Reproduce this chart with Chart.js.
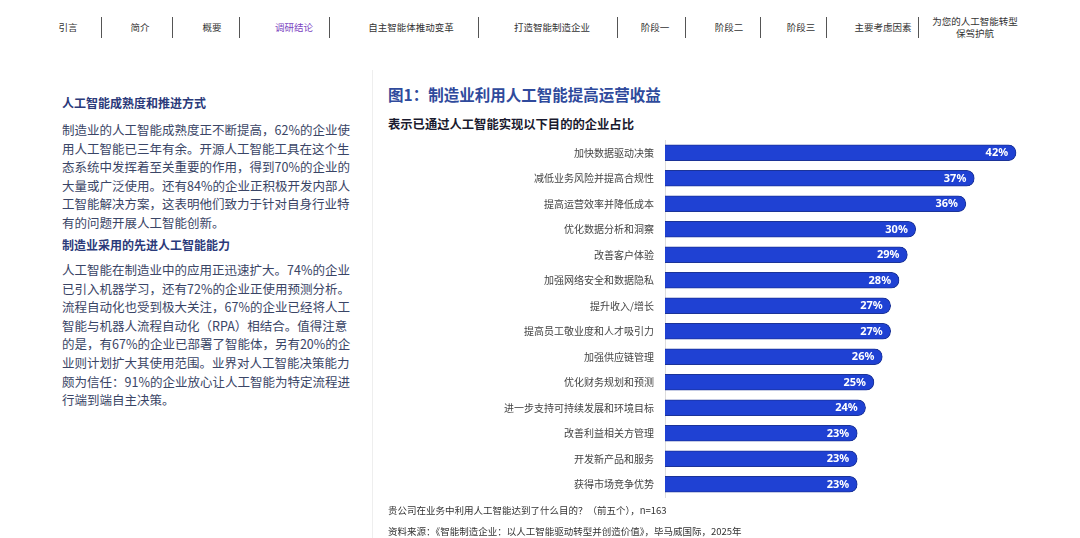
<!DOCTYPE html>
<html>
<head>
<meta charset="utf-8">
<script src="https://cdn.jsdelivr.net/npm/chart.js@4"></script>
<style>
  body { margin: 0; width: 1080px; height: 538px; background: #fff; position: relative; overflow: hidden;
         font-family: "Noto Sans CJK SC", "Noto Sans", sans-serif; }
  .nav { position: absolute; top: 27px; font-size: 9.5px; color: #333; transform: translate(-50%, -50%); white-space: nowrap; text-align: center; line-height: 12px; }
  .sep { position: absolute; top: 17px; width: 1px; height: 21px; background: #555; }
  .left { position: absolute; left: 62px; white-space: nowrap; }
  .h { font-size: 12px; font-weight: bold; color: #2b3a7a; }
  .p { font-size: 12.5px; color: #3a4566; line-height: 18.6px; }
  #divider { position: absolute; left: 372px; top: 70px; width: 1px; height: 468px; background: #eeeeee; }
  #title { position: absolute; left: 388px; top: 83px; font-size: 15.5px; font-weight: bold; color: #2f4a9c; white-space: nowrap; }
  #subtitle { position: absolute; left: 388px; top: 115px; font-size: 12.3px; font-weight: bold; color: #1a1a2e; white-space: nowrap; }
  .foot { position: absolute; left: 388px; font-size: 9.5px; color: #333; white-space: nowrap; }
  #wrap { position: absolute; left: 380px; top: 131px; width: 703px; height: 375px; }
</style>
</head>
<body>
<div id="navbar"></div>

<div id="divider"></div>

<div class="left h" style="top:94px">人工智能成熟度和推进方式</div>
<div class="left p" style="top:121px">制造业的人工智能成熟度正不断提高，62%的企业使<br>用人工智能已三年有余。开源人工智能工具在这个生<br>态系统中发挥着至关重要的作用，得到70%的企业的<br>大量或广泛使用。还有84%的企业正积极开发内部人<br>工智能解决方案，这表明他们致力于针对自身行业特<br>有的问题开展人工智能创新。</div>
<div class="left h" style="top:236px">制造业采用的先进人工智能能力</div>
<div class="left p" style="top:261px">人工智能在制造业中的应用正迅速扩大。74%的企业<br>已引入机器学习，还有72%的企业正使用预测分析。<br>流程自动化也受到极大关注，67%的企业已经将人工<br>智能与机器人流程自动化（RPA）相结合。值得注意<br>的是，有67%的企业已部署了智能体，另有20%的企<br>业则计划扩大其使用范围。业界对人工智能决策能力<br>颇为信任：91%的企业放心让人工智能为特定流程进<br>行端到端自主决策。</div>

<div id="title">图1：制造业利用人工智能提高运营收益</div>
<div id="subtitle">表示已通过人工智能实现以下目的的企业占比</div>

<div id="wrap"><canvas id="chart"></canvas></div>

<div class="foot" style="top:503px">贵公司在业务中利用人工智能达到了什么目的？（前五个），n=163</div>
<div class="foot" style="top:524px">资料来源：《智能制造企业：以人工智能驱动转型并创造价值》，毕马威国际，2025年</div>

<script>
// 顶部导航
const navItems = ['引言', '简介', '概要', '调研结论', '自主智能体推动变革', '打造智能制造企业', '阶段一', '阶段二', '阶段三', '主要考虑因素', '为您的人工智能转型<br>保驾护航'];
const navX = [68, 140, 212, 294, 411, 552, 655, 729, 801, 883, 975];
const sepX = [101, 172, 239, 329, 478, 617, 685, 760, 826, 918];

// 图表数据
const categories = ['加快数据驱动决策', '减低业务风险并提高合规性', '提高运营效率并降低成本', '优化数据分析和洞察', '改善客户体验',
  '加强网络安全和数据隐私', '提升收入/增长', '提高员工敬业度和人才吸引力', '加强供应链管理', '优化财务规划和预测',
  '进一步支持可持续发展和环境目标', '改善利益相关方管理', '开发新产品和服务', '获得市场竞争优势'];
const values = [42, 37, 36, 30, 29, 28, 27, 27, 26, 25, 24, 23, 23, 23];

const nav = document.getElementById('navbar');
navItems.forEach((t, i) => {
    const d = document.createElement('div');
    d.className = 'nav';
    d.style.left = navX[i] + 'px';
    d.innerHTML = t;
    if (i === 3) d.style.color = '#7b3fbf';
    nav.appendChild(d);
});
sepX.forEach(x => {
    const s = document.createElement('div');
    s.className = 'sep';
    s.style.left = x + 'px';
    nav.appendChild(s);
});

// 条形末端的百分比标签
const valueLabels = {
    id: 'valueLabels',
    afterDatasetsDraw(chart) {
        const ctx = chart.ctx;
        const meta = chart.getDatasetMeta(0);
        ctx.save();
        ctx.font = 'bold 11px "Noto Sans", "Noto Sans CJK SC", sans-serif';
        ctx.fillStyle = '#ffffff';
        ctx.textAlign = 'right';
        ctx.textBaseline = 'middle';
        meta.data.forEach((bar, i) => {
            ctx.fillText(values[i] + '%', bar.x - 8, bar.y + 0.5);
        });
        ctx.restore();
    }
};

new Chart(document.getElementById('chart'), {
    type: 'bar',
    data: {
        labels: categories,
        datasets: [{
            data: values,
            backgroundColor: '#1f41d3',
            borderColor: '#1b3398',
            borderWidth: 1,
            borderSkipped: 'start',
            borderRadius: { topRight: 8, bottomRight: 8 },
            barThickness: 16
        }]
    },
    options: {
        indexAxis: 'y',
        responsive: true,
        maintainAspectRatio: false,
        animation: false,
        layout: { padding: 0 },
        plugins: { legend: { display: false }, tooltip: { enabled: false } },
        scales: {
            x: { display: false, min: 0, max: 50 },
            y: {
                grid: { display: false },
                border: { display: true, color: '#dddddd' },
                ticks: {
                    color: '#444',
                    padding: 3,
                    font: { size: 10, family: '"Noto Sans CJK SC", sans-serif' }
                },
                afterFit(scale) { scale.width = 285; }
            }
        }
    },
    plugins: [valueLabels]
});
</script>
</body>
</html>
